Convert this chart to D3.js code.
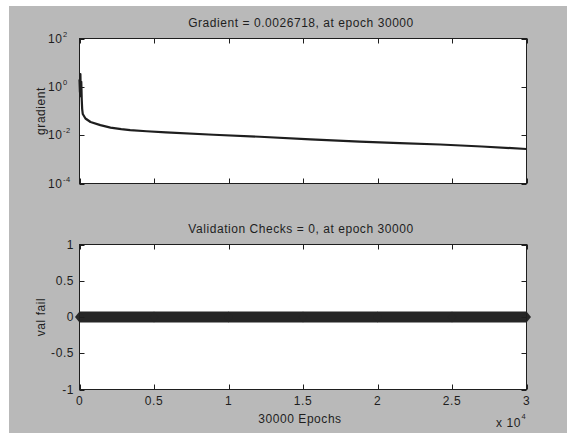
<!DOCTYPE html>
<html>
<head>
<meta charset="utf-8">
<script src="https://cdn.jsdelivr.net/npm/d3@7"></script>
<style>
  body { margin: 0; background: #fff; }
  svg { display: block; font-family: "Liberation Sans", Arial, sans-serif; }
  text { letter-spacing: 0.55px; }
</style>
</head>
<body>
<svg id="chart" width="567" height="433"></svg>
<script>
// gradient per epoch
const gradEpochs = [0, 30, 60, 90, 120, 150, 180, 220, 400, 740, 1400, 2080, 2800, 3400, 4500, 5800, 9000, 12100, 15500, 18800, 21500, 24200, 27000, 30000];
const gradValues = [2.0, 0.6, 3.4, 0.4, 1.6, 0.3, 0.12, 0.075, 0.049, 0.035, 0.026, 0.0205, 0.0178, 0.0163, 0.0145, 0.0130, 0.0104, 0.0086, 0.0067, 0.0054, 0.0047, 0.0041, 0.0034, 0.00267];

// validation checks
const valEpochs = [0, 5000, 10000, 15000, 20000, 25000, 30000];
const valFail = [0, 0, 0, 0, 0, 0, 0];

const xTicks = [0, 5000, 10000, 15000, 20000, 25000, 30000];
const xTickLabels = ["0", "0.5", "1", "1.5", "2", "2.5", "3"];
const gradTicks = [1e-4, 1e-2, 1e0, 1e2];
const gradTickExp = ["-4", "-2", "0", "2"];
const valTicks = [-1, -0.5, 0, 0.5, 1];
const valTickLabels = ["-1", "-0.5", "0", "0.5", "1"];

const svg = d3.select("#chart");
const ink = "#1e1e1e";
const fs = 12;

svg.append("rect")
  .attr("x", 9).attr("y", 6)
  .attr("width", 558).attr("height", 427)
  .attr("fill", "#b9b9b9");

const x = d3.scaleLinear().domain([0, 30000]).range([79.5, 526.5]);
const yGrad = d3.scaleLog().domain([1e-4, 1e2]).range([183.5, 38.5]);
const yVal = d3.scaleLinear().domain([-1, 1]).range([389.5, 244.5]);

function drawFrame(top, bottom) {
  svg.append("rect")
    .attr("x", x.range()[0]).attr("y", top)
    .attr("width", x.range()[1] - x.range()[0])
    .attr("height", bottom - top)
    .attr("fill", "#fff");
}

function drawTicks(y, top, bottom, yt) {
  const g = svg.append("g").attr("stroke", ink).attr("stroke-width", 1);
  xTicks.forEach(t => {
    const xx = Math.round(x(t)) + 0.5;
    g.append("line").attr("x1", xx).attr("x2", xx).attr("y1", bottom).attr("y2", bottom - 5);
    g.append("line").attr("x1", xx).attr("x2", xx).attr("y1", top).attr("y2", top + 5);
  });
  yt.forEach(t => {
    const yy = Math.round(y(t)) + 0.5;
    g.append("line").attr("x1", x.range()[0]).attr("x2", x.range()[0] + 5).attr("y1", yy).attr("y2", yy);
    g.append("line").attr("x1", x.range()[1]).attr("x2", x.range()[1] - 5).attr("y1", yy).attr("y2", yy);
  });
  g.append("rect")
    .attr("x", x.range()[0]).attr("y", top)
    .attr("width", x.range()[1] - x.range()[0])
    .attr("height", bottom - top)
    .attr("fill", "none");
}

function label(xp, yp, str, anchor, size) {
  return svg.append("text")
    .attr("x", xp).attr("y", yp)
    .attr("text-anchor", anchor || "middle")
    .attr("font-size", size || fs)
    .attr("fill", ink)
    .text(str);
}

// ---- top axes: gradient
drawFrame(38.5, 183.5);

const gradLine = d3.line()
  .x((d, i) => x(gradEpochs[i]))
  .y(d => yGrad(d));

svg.append("path")
  .datum(gradValues)
  .attr("d", gradLine)
  .attr("fill", "none")
  .attr("stroke", ink)
  .attr("stroke-width", 2.2)
  .attr("stroke-linejoin", "round");

drawTicks(yGrad, 38.5, 183.5, gradTicks);

gradTicks.forEach((t, i) => {
  label(62.5, yGrad(t) + 4, "10", "end");
  label(63, yGrad(t) - 2, gradTickExp[i], "start", 7.5);
});

label(301, 27, "Gradient = 0.0026718, at epoch 30000");

svg.append("text")
  .attr("transform", "translate(45,111) rotate(-90)")
  .attr("text-anchor", "middle")
  .attr("font-size", fs)
  .attr("fill", ink)
  .text("gradient");

// ---- bottom axes: validation checks
drawFrame(244.5, 389.5);

const valLine = d3.line()
  .x((d, i) => x(valEpochs[i]))
  .y(d => yVal(d));

svg.append("path")
  .datum(valFail)
  .attr("d", valLine)
  .attr("fill", "none")
  .attr("stroke", "#262626")
  .attr("stroke-width", 11);

svg.append("g")
  .selectAll("path")
  .data(valFail)
  .join("path")
  .attr("transform", (d, i) => `translate(${x(valEpochs[i])},${yVal(d)})`)
  .attr("d", "M-4.5,0L0,-5.5L4.5,0L0,5.5Z")
  .attr("fill", "#262626");

drawTicks(yVal, 244.5, 389.5, valTicks);

valTicks.forEach((t, i) => {
  label(74, yVal(t) + 4, valTickLabels[i], "end");
});

xTicks.forEach((t, i) => {
  label(x(t), 405, xTickLabels[i]);
});

label(301, 233, "Validation Checks = 0, at epoch 30000");

svg.append("text")
  .attr("transform", "translate(45,317) rotate(-90)")
  .attr("text-anchor", "middle")
  .attr("font-size", fs)
  .attr("fill", ink)
  .text("val fail");

label(300, 423, "30000 Epochs");

label(521, 427, "x 10", "end");
label(521.5, 419, "4", "start", 7.5);
</script>
</body>
</html>
